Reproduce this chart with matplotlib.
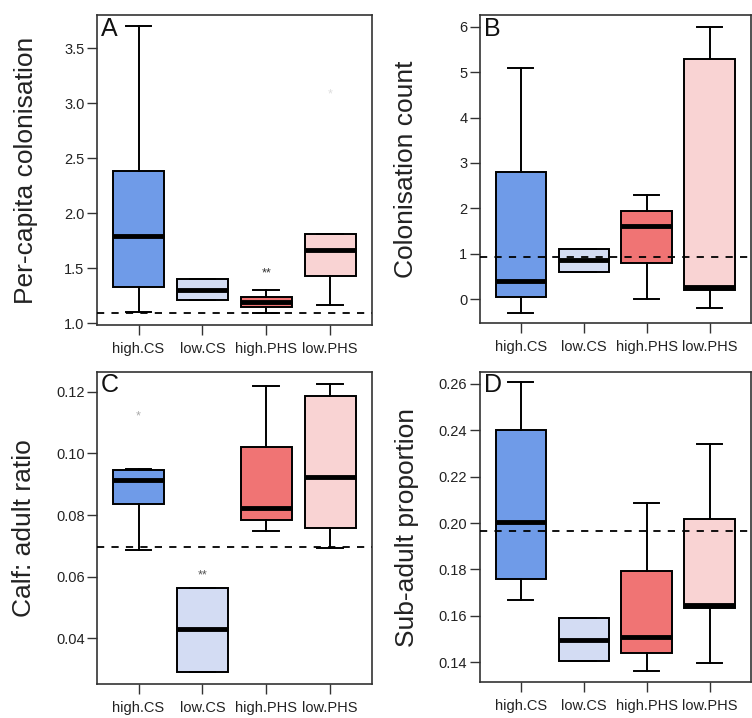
import numpy as np
import matplotlib.pyplot as plt

plt.rcParams['font.family'] = ['Liberation Sans', 'DejaVu Sans']

groups = ["high.CS", "low.CS", "high.PHS", "low.PHS"]
box_colors = ["#6F9BE8", "#D3DCF3", "#F07474", "#F9D3D3"]

# five-number summaries per group: whislo, q1, med, q3, whishi
A_stats = [[1.10, 1.33, 1.79, 2.38, 3.70],
           [1.21, 1.21, 1.30, 1.40, 1.40],
           [1.09, 1.145, 1.19, 1.24, 1.30],
           [1.16, 1.43, 1.66, 1.81, 1.81]]
B_stats = [[-0.30, 0.05, 0.40, 2.80, 5.10],
           [0.60, 0.60, 0.85, 1.10, 1.10],
           [0.00, 0.80, 1.60, 1.95, 2.30],
           [-0.20, 0.19, 0.27, 5.30, 6.00]]
C_stats = [[0.0687, 0.0836, 0.0915, 0.0947, 0.0950],
           [0.0290, 0.0290, 0.0428, 0.0564, 0.0564],
           [0.0748, 0.0785, 0.0822, 0.1020, 0.1220],
           [0.0692, 0.0758, 0.0923, 0.1187, 0.1226]]
D_stats = [[0.1666, 0.1758, 0.2003, 0.2400, 0.2610],
           [0.1406, 0.1406, 0.1497, 0.1592, 0.1592],
           [0.1362, 0.1438, 0.1507, 0.1793, 0.2085],
           [0.1396, 0.1635, 0.1647, 0.2019, 0.2343]]

ref_lines = [1.095, 0.93, 0.0695, 0.1967]
ylabels = ["Per-capita colonisation", "Colonisation count",
           "Calf: adult ratio", "Sub-adult proportion"]
letters = ["A", "B", "C", "D"]
yticks = [[1.0, 1.5, 2.0, 2.5, 3.0, 3.5],
          [0, 1, 2, 3, 4, 5, 6],
          [0.04, 0.06, 0.08, 0.10, 0.12],
          [0.14, 0.16, 0.18, 0.20, 0.22, 0.24, 0.26]]
ytick_fmt = ["{:.1f}", "{:.0f}", "{:.2f}", "{:.2f}"]
ylims = [(0.98, 3.80), (-0.53, 6.26), (0.025, 0.1265), (0.1314, 0.2652)]

# significance marks: (panel, group index, y, text, colour)
marks = [(0, 2, 1.45, "**", "#333333"),
         (0, 3, 3.08, "*", "#DDDDDD"),
         (2, 0, 0.112, "*", "#AAAAAA"),
         (2, 1, 0.0603, "**", "#555555")]

positions = [[0.129, 0.547, 0.366, 0.432],
             [0.638, 0.550, 0.361, 0.429],
             [0.129, 0.047, 0.366, 0.435],
             [0.638, 0.050, 0.361, 0.432]]
label_x = [-0.215, -0.228, -0.222, -0.225]

fig = plt.figure(figsize=(7.52, 7.18), dpi=100)

all_stats = [A_stats, B_stats, C_stats, D_stats]
for i, stats in enumerate(all_stats):
    ax = fig.add_axes(positions[i])
    bxp_stats = []
    for g, s in zip(groups, stats):
        bxp_stats.append(dict(label=g, whislo=s[0], q1=s[1], med=s[2],
                              q3=s[3], whishi=s[4], fliers=[]))
    x = np.arange(1, len(groups) + 1)
    bp = ax.bxp(bxp_stats, positions=x, widths=0.8, patch_artist=True,
                showfliers=False,
                boxprops=dict(linewidth=1.4, edgecolor="black"),
                medianprops=dict(color="black", linewidth=3.5,
                                 solid_capstyle="butt"),
                whiskerprops=dict(color="black", linewidth=1.4),
                capprops=dict(color="black", linewidth=1.4),
                capwidths=0.4)
    for patch, col in zip(bp["boxes"], box_colors):
        patch.set_facecolor(col)

    ax.axhline(ref_lines[i], color="black", linestyle=(0, (4, 4)),
               linewidth=1.3, zorder=3)

    for p, gi, yv, txt, c in marks:
        if p == i:
            ax.text(x[gi], yv, txt, ha="center", va="center",
                    fontsize=9, color=c)

    ax.set_xlim(0.35, 4.66)
    ax.set_ylim(*ylims[i])
    ax.set_xticks(x)
    ax.set_xticklabels(groups, fontsize=10.5)
    ax.set_yticks(yticks[i])
    ax.set_yticklabels([ytick_fmt[i].format(v) for v in yticks[i]],
                       fontsize=10.5)
    ax.tick_params(axis="both", length=7, width=1, color="#333333",
                   labelcolor="#222222")
    ax.tick_params(axis="y", pad=2)
    ax.tick_params(axis="x", pad=5)
    ax.set_ylabel(ylabels[i], fontsize=19, color="#222222")
    ax.yaxis.set_label_coords(label_x[i], 0.5)
    for sp in ax.spines.values():
        sp.set_linewidth(1.2)
        sp.set_color("#333333")
    ax.text(0.015, 0.995, letters[i], transform=ax.transAxes,
            ha="left", va="top", fontsize=18, color="#111111")

fig.savefig("out.png", dpi=100)
